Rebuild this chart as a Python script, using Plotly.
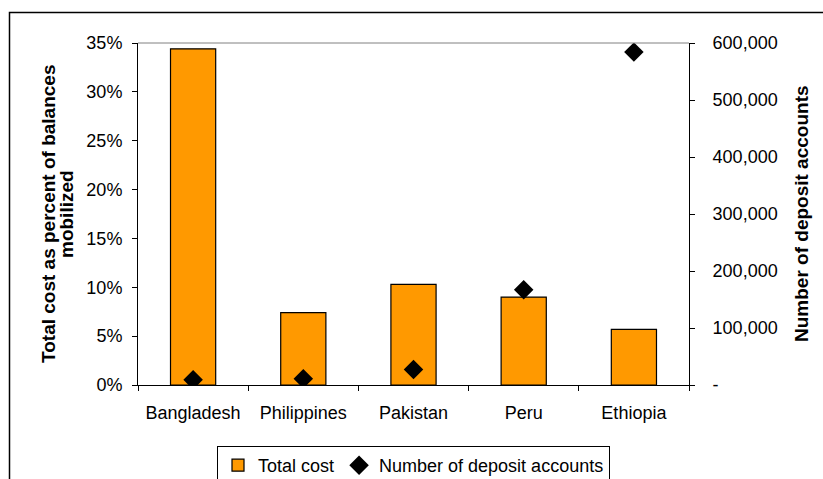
import plotly.graph_objects as go

countries = ["Bangladesh", "Philippines", "Pakistan", "Peru", "Ethiopia"]
total_cost = [0.344, 0.074, 0.103, 0.090, 0.057]
deposit_accounts = [9000, 11000, 27000, 167000, 584000]

left_tick_vals = [0, 0.05, 0.10, 0.15, 0.20, 0.25, 0.30, 0.35]
right_tick_vals = [0, 100000, 200000, 300000, 400000, 500000, 600000]
right_tick_text = ["-", "100,000", "200,000", "300,000", "400,000", "500,000", "600,000"]
left_title_lines = ["Total cost as percent of balances", "mobilized"]
right_title = "Number of deposit accounts"

W, H = 823, 479
L, R, T, B = 138, 689, 43, 385
pw, ph = R - L, B - T


def px(x):
    return (x - L) / pw


def py(y):
    return (B - y) / ph


FONT = "Liberation Sans, Arial, sans-serif"
FS = 18

fig = go.Figure()
fig.add_trace(go.Bar(
    x=countries, y=total_cost, name="Total cost",
    marker=dict(color="#FF9900", line=dict(color="black", width=1.2)),
    yaxis="y",
))
fig.add_trace(go.Scatter(
    x=countries, y=deposit_accounts, name="Number of deposit accounts",
    mode="markers", marker=dict(symbol="diamond", size=15, color="black"),
    yaxis="y2",
))

fig.update_layout(
    width=W, height=H,
    margin=dict(l=L, r=W - R, t=T, b=H - B, pad=0, autoexpand=False),
    paper_bgcolor="white", plot_bgcolor="white",
    font=dict(family=FONT, size=FS, color="black"),
    bargap=0.59,
    showlegend=True,
    legend=dict(
        orientation="h", x=px(217), y=py(446), xanchor="left", yanchor="top",
        bordercolor="black", borderwidth=1, bgcolor="white",
        font=dict(family=FONT, size=FS, color="black"),
        itemwidth=30, tracegroupgap=0,
    ),
    xaxis=dict(
        showline=True, linecolor="black", linewidth=1,
        ticks="outside", ticklen=5, tickcolor="black", tickson="boundaries",
        showgrid=False, ticklabelstandoff=11, automargin=False,
        tickfont=dict(family=FONT, size=FS),
    ),
    yaxis=dict(
        range=[0, 0.35], tickvals=left_tick_vals, tickformat=".0%",
        showline=True, linecolor="black", linewidth=1,
        ticks="outside", ticklen=5, tickcolor="black",
        showgrid=False, zeroline=False, ticklabelstandoff=6, automargin=False,
        tickfont=dict(family=FONT, size=FS),
    ),
    yaxis2=dict(
        range=[0, 600000], tickvals=right_tick_vals, ticktext=right_tick_text,
        overlaying="y", side="right",
        showline=True, linecolor="black", linewidth=1,
        ticks="outside", ticklen=5, tickcolor="black",
        showgrid=False, zeroline=False, ticklabelstandoff=14, automargin=False,
        tickfont=dict(family=FONT, size=FS),
    ),
)

# axis titles
for line_text, xpix in zip(left_title_lines, [48, 66]):
    fig.add_annotation(
        text="<b>" + line_text + "</b>",
        xref="paper", yref="paper", x=px(xpix), y=0.5, xanchor="center", yanchor="middle",
        textangle=-90, showarrow=False, font=dict(family=FONT, size=19),
    )
fig.add_annotation(
    text="<b>" + right_title + "</b>",
    xref="paper", yref="paper", x=px(801), y=0.5, xanchor="center", yanchor="middle",
    textangle=-90, showarrow=False, font=dict(family=FONT, size=19),
)

# plot area top border (gray)
fig.add_shape(type="line", xref="paper", yref="paper", x0=0, x1=1, y0=1, y1=1,
              line=dict(color="#808080", width=1))
# outer chart frame
fig.add_shape(type="rect", xref="paper", yref="paper",
              x0=px(9.5), x1=px(840), y0=py(12.5), y1=py(500),
              line=dict(color="black", width=1.5), layer="below")

fig.write_html("out.html")
